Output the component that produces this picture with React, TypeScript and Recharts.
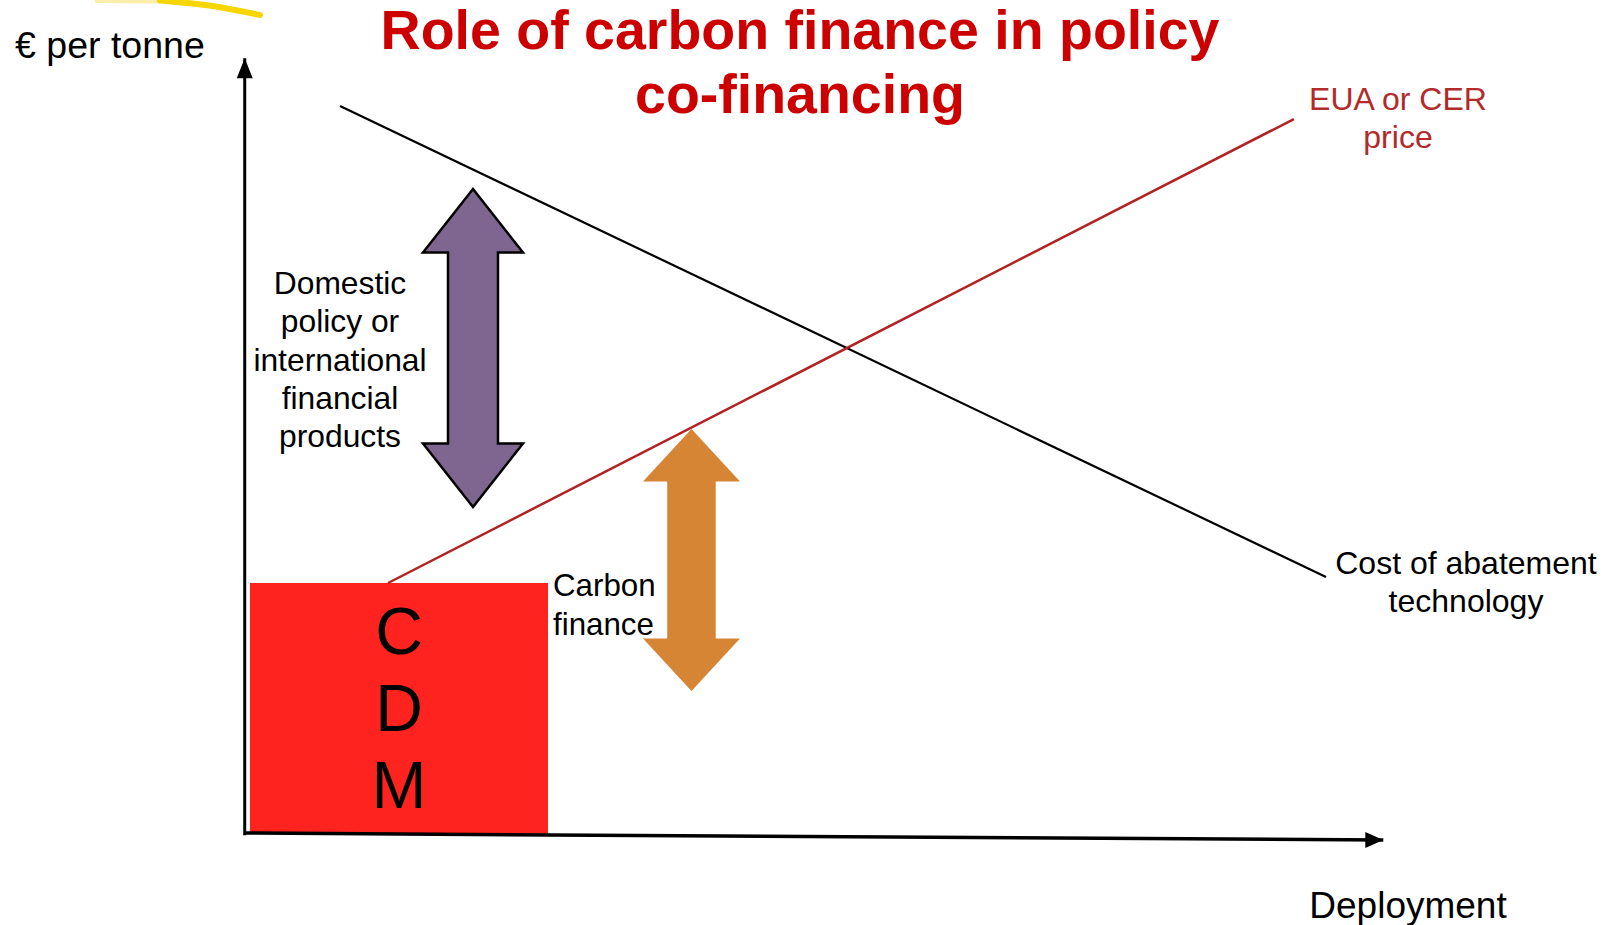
import React from 'react';
import { ComposedChart, Line, XAxis, YAxis, ReferenceArea } from 'recharts';

// Conceptual chart: € per tonne (y) versus deployment (x), arbitrary units
const costOfAbatement = [
  { x: 8.37, y: 93.86 },
  { x: 94.97, y: 33.24 },
];
const carbonPrice = [
  { x: 12.59, y: 32.47 },
  { x: 92.15, y: 92.18 },
];
const xAxisLine = [
  { x: 0, y: 0.29 },
  { x: 100, y: -0.61 },
];
const yAxisLine = [
  { x: 0, y: 0 },
  { x: 0, y: 100 },
];
const highlightFaint = [
  { x: -13.15, y: 107.5 },
  { x: -7.44, y: 107.44 },
];
const highlightStroke = [
  { x: -7.44, y: 107.44 },
  { x: -2.87, y: 106.73 },
  { x: 1.34, y: 105.57 },
];
const cdmBox = { x1: 0.46, x2: 26.64, y1: 0.2, y2: 32.47 };
const doubleArrows = [
  { name: 'policy', x1: 15.66, x2: 24.44, y1: 42.25, y2: 83.18, fill: '#7f6690', stroke: '#000000' },
  { name: 'carbon', x1: 34.98, x2: 43.5, y1: 18.57, y2: 52.29, fill: '#d68535', stroke: 'none' },
];

const titleLines = ['Role of carbon finance in policy', 'co-financing'];
const yAxisTitle = '€ per tonne';
const xAxisTitle = 'Deployment';
const priceLabel = ['EUA or CER', 'price'];
const costLabel = ['Cost of abatement', 'technology'];
const policyLabel = ['Domestic', 'policy or', 'international', 'financial', 'products'];
const carbonLabel = ['Carbon', 'finance'];
const cdmLetters = ['C', 'D', 'M'];

const FONT = '"Liberation Sans", Arial, Helvetica, sans-serif';

const W = 1612;
const H = 925;

const makeHead = (dir: 'up' | 'right') => (props: any) => {
  const { cx, cy, index } = props;
  if (index !== 1 || cx == null || cy == null) return <g key={`h${dir}${index}`} />;
  const pts =
    dir === 'up'
      ? `${cx},${cy} ${cx - 8},${cy + 20} ${cx + 8},${cy + 20}`
      : `${cx},${cy} ${cx - 18},${cy - 8} ${cx - 18},${cy + 8}`;
  return <polygon key={`h${dir}${index}`} points={pts} fill="#000" stroke="none" />;
};

const makeDoubleArrow = (fill: string, stroke: string) => (props: any) => {
  const { x, y, width, height } = props;
  if (x == null) return <g />;
  const head = height * 0.2;
  const shaft = width * 0.5;
  const cx = x + width / 2;
  const sl = cx - shaft / 2;
  const sr = cx + shaft / 2;
  const top = y;
  const bot = y + height;
  const pts = [
    [cx, top],
    [x + width, top + head],
    [sr, top + head],
    [sr, bot - head],
    [x + width, bot - head],
    [cx, bot],
    [x, bot - head],
    [sl, bot - head],
    [sl, top + head],
    [x, top + head],
  ]
    .map((p) => p.join(','))
    .join(' ');
  return (
    <polygon
      points={pts}
      fill={fill}
      stroke={stroke}
      strokeWidth={stroke === 'none' ? 0 : 2.5}
      strokeLinejoin="miter"
    />
  );
};

export default function App() {
  return (
    <div style={{ position: 'absolute', left: 0, top: 0, width: W, height: H, background: '#fff' }}>
      <ComposedChart width={W} height={H} margin={{ top: 0, right: 1, bottom: 12, left: 17 }}>
        <XAxis type="number" dataKey="x" domain={[-20, 120]} hide />
        <YAxis type="number" dataKey="y" domain={[-10, 107.5]} hide />
        <ReferenceArea
          x1={cdmBox.x1}
          x2={cdmBox.x2}
          y1={cdmBox.y1}
          y2={cdmBox.y2}
          fill="#ff2320"
          fillOpacity={1}
          stroke="none"
        />
        {doubleArrows.map((a) => (
          <ReferenceArea
            key={a.name}
            x1={a.x1}
            x2={a.x2}
            y1={a.y1}
            y2={a.y2}
            shape={makeDoubleArrow(a.fill, a.stroke)}
          />
        ))}
        <Line
          data={highlightFaint}
          dataKey="y"
          type="linear"
          stroke="#fbeeaa"
          strokeWidth={6}
          dot={false}
          activeDot={false}
          isAnimationActive={false}
        />
        <Line
          data={highlightStroke}
          dataKey="y"
          type="monotone"
          stroke="#f7d600"
          strokeWidth={6}
          strokeLinecap="round"
          dot={false}
          activeDot={false}
          isAnimationActive={false}
        />
        <Line
          data={yAxisLine}
          dataKey="y"
          type="linear"
          stroke="#000"
          strokeWidth={3}
          dot={makeHead('up')}
          activeDot={false}
          isAnimationActive={false}
        />
        <Line
          data={xAxisLine}
          dataKey="y"
          type="linear"
          stroke="#000"
          strokeWidth={3.5}
          dot={makeHead('right')}
          activeDot={false}
          isAnimationActive={false}
        />
        <Line
          data={costOfAbatement}
          dataKey="y"
          type="linear"
          stroke="#000"
          strokeWidth={2.2}
          dot={false}
          activeDot={false}
          isAnimationActive={false}
        />
        <Line
          data={carbonPrice}
          dataKey="y"
          type="linear"
          stroke="#b22222"
          strokeWidth={2.5}
          dot={false}
          activeDot={false}
          isAnimationActive={false}
        />
      </ComposedChart>
      <svg
        width={W}
        height={H}
        style={{ position: 'absolute', left: 0, top: 0, pointerEvents: 'none' }}
        fontFamily={FONT}
      >
        <text x={800} y={49} textAnchor="middle" fontSize={55.5} fontWeight="bold" fill="#cc0000">
          {titleLines[0]}
        </text>
        <text x={800} y={113} textAnchor="middle" fontSize={55.5} fontWeight="bold" fill="#cc0000">
          {titleLines[1]}
        </text>
        <text x={15} y={58} fontSize={37.5} fill="#000">
          {yAxisTitle}
        </text>
        <text x={1408} y={918} textAnchor="middle" fontSize={37} fill="#000">
          {xAxisTitle}
        </text>
        {priceLabel.map((t, i) => (
          <text key={t} x={1398} y={110 + i * 38} textAnchor="middle" fontSize={32} fill="#b22a2a">
            {t}
          </text>
        ))}
        {costLabel.map((t, i) => (
          <text key={t} x={1466} y={574 + i * 38} textAnchor="middle" fontSize={32} fill="#000">
            {t}
          </text>
        ))}
        {policyLabel.map((t, i) => (
          <text key={t} x={340} y={294 + i * 38.3} textAnchor="middle" fontSize={31.8} fill="#000">
            {t}
          </text>
        ))}
        {carbonLabel.map((t, i) => (
          <text key={t} x={553} y={596 + i * 39} fontSize={31.3} fill="#000">
            {t}
          </text>
        ))}
        {cdmLetters.map((t, i) => (
          <text key={t} x={399} y={654 + i * 77} textAnchor="middle" fontSize={66} fill="#000">
            {t}
          </text>
        ))}
      </svg>
    </div>
  );
}
